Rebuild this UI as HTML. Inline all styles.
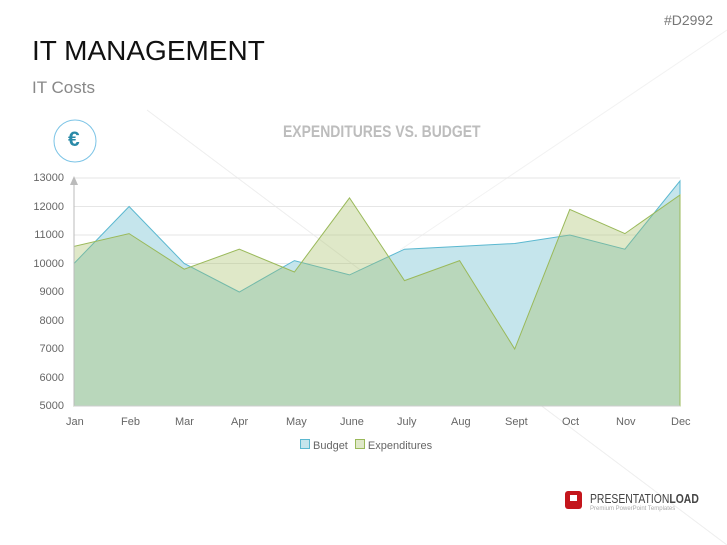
<!DOCTYPE html>
<html><head><meta charset="utf-8"><style>
body{margin:0;width:727px;height:545px;background:#fff;font-family:"Liberation Sans",sans-serif;overflow:hidden;position:relative}
.t{position:absolute}
.y{position:absolute;left:14px;width:50px;text-align:right;font-size:11px;color:#666;line-height:12px}
</style></head><body>
<svg width="727" height="545" style="position:absolute;left:0;top:0">
<line x1="147" y1="110" x2="727" y2="545" stroke="#eee" stroke-width="1"/>
<line x1="400" y1="250" x2="727" y2="30" stroke="#f2f2f2" stroke-width="1"/>
<g stroke="#e6e6e6" stroke-width="1">
<line x1="74" y1="178" x2="680" y2="178"/><line x1="74" y1="206.5" x2="680" y2="206.5"/><line x1="74" y1="235" x2="680" y2="235"/><line x1="74" y1="263.5" x2="680" y2="263.5"/><line x1="74" y1="292" x2="680" y2="292"/><line x1="74" y1="320.5" x2="680" y2="320.5"/><line x1="74" y1="349" x2="680" y2="349"/><line x1="74" y1="377.5" x2="680" y2="377.5"/>
</g>
<polygon fill="rgb(197,229,236)" stroke="#5bb8d0" stroke-width="1" points="74,406 74,263.5 129.1,206.5 184.2,263.5 239.3,292 294.4,260.6 349.5,274.9 404.5,249.2 459.6,246.4 514.7,243.5 569.8,235 624.9,249.2 680,180.9 680,406"/>
<polygon fill="rgb(164,189,98)" fill-opacity="0.35" stroke="#9ab95a" stroke-width="1" points="74,406 74,246.4 129.1,233.6 184.2,269.2 239.3,249.2 294.4,272 349.5,197.9 404.5,280.6 459.6,260.6 514.7,349 569.8,209.4 624.9,233.6 680,195 680,406"/>
<line x1="74" y1="406" x2="74" y2="178" stroke="#bbb"/>
<polygon points="70,185 78,185 74,176" fill="#bbb"/>
<line x1="74" y1="406" x2="680" y2="406" stroke="#ccc"/>
<circle cx="75" cy="141" r="21" fill="#fff" stroke="#7cc4e6" stroke-width="1"/>
<rect x="565" y="491" width="17" height="18" rx="3" fill="#c4161c"/>
<rect x="570" y="495" width="7" height="6" fill="#fff"/>
</svg>
<div class="t" style="right:14px;top:12px;font-size:14px;color:#777">#D2992</div>
<div class="t" style="left:32px;top:35px;font-size:28px;color:#111">IT MANAGEMENT</div>
<div class="t" style="left:32px;top:78px;font-size:17px;color:#888">IT Costs</div>
<div class="t" style="left:283px;top:122px;font-size:17px;font-weight:bold;color:#bdbdbd;transform:scaleX(.82);transform-origin:left">EXPENDITURES VS. BUDGET</div>
<div class="t" style="left:68px;top:128px;font-size:21px;font-weight:bold;color:#2a8aa8">€</div>
<div class="y" style="top:172px">13000</div>
<div class="y" style="top:200.5px">12000</div>
<div class="y" style="top:229px">11000</div>
<div class="y" style="top:257.5px">10000</div>
<div class="y" style="top:286px">9000</div>
<div class="y" style="top:314.5px">8000</div>
<div class="y" style="top:343px">7000</div>
<div class="y" style="top:371.5px">6000</div>
<div class="y" style="top:400px">5000</div>
<div class="t" style="top:416px;left:0;width:727px;font-size:11px;color:#666">
<span class="t" style="left:66px">Jan</span><span class="t" style="left:121px">Feb</span><span class="t" style="left:175px">Mar</span><span class="t" style="left:231px">Apr</span><span class="t" style="left:286px">May</span><span class="t" style="left:340px">June</span><span class="t" style="left:397px">July</span><span class="t" style="left:451px">Aug</span><span class="t" style="left:505px">Sept</span><span class="t" style="left:562px">Oct</span><span class="t" style="left:616px">Nov</span><span class="t" style="left:671px">Dec</span></div>
<div class="t" style="left:300px;top:439px;font-size:11px;color:#666"><span style="display:inline-block;width:8px;height:8px;background:#c5e5ec;border:1px solid #5bb8d0;margin-right:3px"></span>Budget <span style="display:inline-block;width:8px;height:8px;background:#dfe8c8;border:1px solid #9ab95a;margin:0 3px 0 4px"></span>Expenditures</div>
<div class="t" style="left:590px;top:491px;font-size:13px;color:#444;transform:scaleX(.8);transform-origin:left;white-space:nowrap">PRESENTATION<b>LOAD</b></div>
<div class="t" style="left:590px;top:506px;font-size:6px;color:#aaa">Premium PowerPoint Templates</div>
</body></html>
